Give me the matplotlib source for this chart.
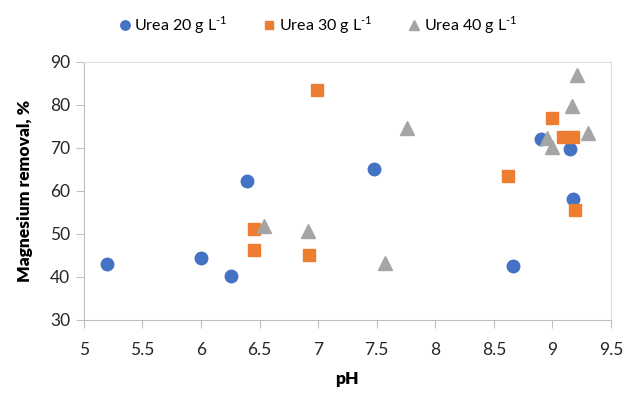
import matplotlib
matplotlib.use("Agg")
import matplotlib.pyplot as plt

plt.rcParams['font.family'] = ['Lato', 'DejaVu Sans']
plt.rcParams['mathtext.fontset'] = 'custom'
plt.rcParams['mathtext.rm'] = 'Lato'

# pH / magnesium removal (%)
ph_20 = [5.2, 6.0, 6.26, 6.39, 7.48, 8.66, 8.9, 9.15, 9.18]
mg_20 = [43.0, 44.5, 40.2, 62.2, 65.2, 42.5, 72.1, 69.7, 58.1]

ph_30 = [6.45, 6.45, 6.92, 6.99, 8.62, 9.0, 9.09, 9.18, 9.19]
mg_30 = [51.2, 46.2, 45.0, 83.5, 63.5, 76.9, 72.6, 72.6, 55.6]

ph_40 = [6.54, 6.91, 7.57, 7.76, 8.95, 9.0, 9.17, 9.21, 9.30]
mg_40 = [51.8, 50.7, 43.3, 74.7, 72.3, 70.1, 79.8, 87.0, 73.4]

x_ticks = [5, 5.5, 6, 6.5, 7, 7.5, 8, 8.5, 9, 9.5]
y_ticks = [30, 40, 50, 60, 70, 80, 90]

fig = plt.figure(figsize=(6.26, 3.94), dpi=100)
ax = fig.add_axes([0.134, 0.188, 0.842, 0.655])

ax.plot(ph_20, mg_20, 'o', color='#4472C4', markersize=9, label='Urea 20 g L$^{\\text{-1}}$', zorder=3)
ax.plot(ph_30, mg_30, 's', color='#ED7D31', markersize=8.5, label='Urea 30 g L$^{\\text{-1}}$', zorder=3)
ax.plot(ph_40, mg_40, '^', color='#A5A5A5', markersize=10, label='Urea 40 g L$^{\\text{-1}}$', zorder=3)

ax.set_xlim(5, 9.5)
ax.set_ylim(30, 90)
ax.set_xticks(x_ticks)
ax.set_xticklabels([f'{t:g}' for t in x_ticks])
ax.set_yticks(y_ticks)

for s in ['left', 'bottom']:
    ax.spines[s].set_color('#BFBFBF')
for s in ['top', 'right']:
    ax.spines[s].set_color('#E0E0E0')
ax.tick_params(axis='both', direction='out', length=6, color='#BFBFBF',
               labelsize=12.5, labelcolor='#262626', pad=4)
ax.tick_params(axis='x', pad=10)

ax.set_xlabel('pH', fontsize=12.5, fontweight='heavy', labelpad=9)
ax.set_ylabel('Magnesium removal, %', fontsize=12.5, fontweight='heavy', labelpad=12)

leg = fig.legend(loc='upper center', bbox_to_anchor=(0.505, 1.0), ncol=3, frameon=False,
                 fontsize=11.5, handletextpad=0.0, columnspacing=2.0, handlelength=1.2,
                 markerscale=0.75)

fig.savefig('out.png', dpi=100)
